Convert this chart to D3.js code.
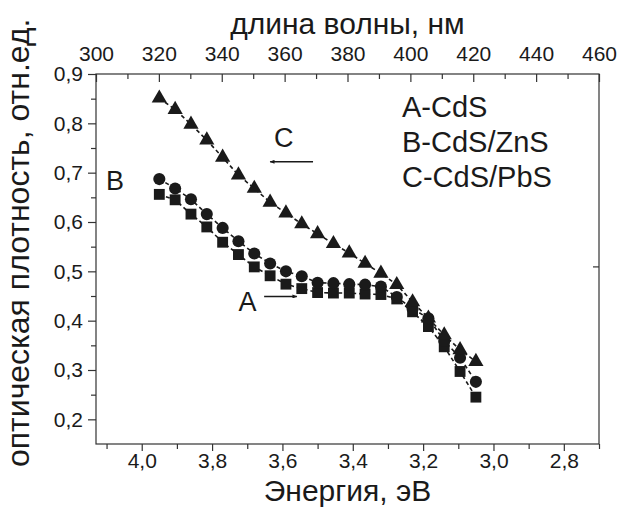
<!DOCTYPE html>
<html lang="ru">
<head>
<meta charset="UTF-8">
<title>Оптическая плотность CdS</title>
<script src="https://d3js.org/d3.v7.min.js"></script>
<style>
    body { margin: 0; background: #fff; overflow: hidden; }
    svg { display: block; }
    text { font-family: "Liberation Sans", Arial, sans-serif; fill: #1a1a1a; }
    .frame { fill: none; stroke: #333; stroke-width: 1.2; }
    .axis path { display: none; }
    .axis line { stroke: #333; stroke-width: 1.2; }
    .axis text { font-size: 21px; }
    .series { fill: none; stroke: #1a1a1a; stroke-width: 1.6; stroke-dasharray: 4,3; }
</style>
</head>
<body>
<svg width="618" height="509"></svg>
<script>
    // энергия фотона, эВ (общая для всех кривых)
    const energy = [3.95, 3.905, 3.86, 3.815, 3.77, 3.725, 3.68, 3.635, 3.59, 3.545, 3.50,
                    3.455, 3.41, 3.365, 3.32, 3.275, 3.23, 3.185, 3.14, 3.095, 3.05];

    // A-CdS (квадраты)
    const seriesA = [0.656, 0.645, 0.616, 0.590, 0.559, 0.534, 0.509, 0.491, 0.474, 0.465, 0.457,
                     0.456, 0.456, 0.454, 0.453, 0.444, 0.418, 0.388, 0.347, 0.297, 0.245];
    // B-CdS/ZnS (круги)
    const seriesB = [0.687, 0.668, 0.646, 0.616, 0.588, 0.561, 0.536, 0.516, 0.500, 0.490, 0.477,
                     0.476, 0.474, 0.473, 0.469, 0.448, 0.424, 0.405, 0.359, 0.325, 0.276];
    // C-CdS/PbS (треугольники)
    const seriesC = [0.851, 0.828, 0.798, 0.766, 0.731, 0.695, 0.668, 0.640, 0.618, 0.596, 0.576,
                     0.556, 0.537, 0.516, 0.496, 0.473, 0.438, 0.405, 0.371, 0.341, 0.317];

    const energyTicks = [4.0, 3.8, 3.6, 3.4, 3.2, 3.0, 2.8];
    const energyMinor = [4.1, 3.9, 3.7, 3.5, 3.3, 3.1, 2.9, 2.7];
    const waveTicks = [300, 320, 340, 360, 380, 400, 420, 440, 460];
    const waveMinor = [310, 330, 350, 370, 390, 410, 430, 450];
    const yTicks = [0.2, 0.3, 0.4, 0.5, 0.6, 0.7, 0.8, 0.9];
    const yMinor = [0.25, 0.35, 0.45, 0.55, 0.65, 0.75, 0.85];
    const rightTicks = [0.51];

    const legendLines = ["A-CdS", "B-CdS/ZnS", "C-CdS/PbS"];

    const svg = d3.select("svg");
    const m = { left: 96, right: 599, top: 74, bottom: 444 };

    const x = d3.scaleLinear().domain([4.13, 2.70]).range([m.left, m.right]);
    const xTop = d3.scaleLinear().domain([300, 460]).range([m.left, m.right]);
    const y = d3.scaleLinear().domain([0.15, 0.9]).range([m.bottom, m.top]);

    const fmt = d => d3.format(".1f")(d).replace(".", ",");

    // нижняя ось — энергия
    svg.append("g").attr("class", "axis")
        .attr("transform", `translate(0,${m.bottom})`)
        .call(d3.axisBottom(x).tickValues(energyTicks).tickFormat(fmt).tickSize(7).tickPadding(2));
    svg.append("g").attr("class", "axis")
        .attr("transform", `translate(0,${m.bottom})`)
        .call(d3.axisBottom(x).tickValues(energyMinor).tickFormat("").tickSize(5));

    // верхняя ось — длина волны, засечки внутрь
    svg.append("g").attr("class", "axis")
        .attr("transform", `translate(0,${m.top})`)
        .call(d3.axisTop(xTop).tickValues(waveTicks).tickSize(-8).tickPadding(13));
    svg.append("g").attr("class", "axis")
        .attr("transform", `translate(0,${m.top})`)
        .call(d3.axisTop(xTop).tickValues(waveMinor).tickFormat("").tickSize(-5));

    // левая ось
    svg.append("g").attr("class", "axis")
        .attr("transform", `translate(${m.left},0)`)
        .call(d3.axisLeft(y).tickValues(yTicks).tickFormat(fmt).tickSize(8).tickPadding(5));
    svg.append("g").attr("class", "axis")
        .attr("transform", `translate(${m.left},0)`)
        .call(d3.axisLeft(y).tickValues(yMinor).tickFormat("").tickSize(5));

    // правая ось — одна засечка внутрь
    svg.append("g").attr("class", "axis")
        .attr("transform", `translate(${m.right},0)`)
        .call(d3.axisRight(y).tickValues(rightTicks).tickFormat("").tickSize(-6));

    svg.append("rect").attr("class", "frame")
        .attr("x", m.left).attr("y", m.top)
        .attr("width", m.right - m.left).attr("height", m.bottom - m.top);

    // подписи осей
    svg.append("text")
        .attr("x", (m.left + m.right) / 2).attr("y", 34)
        .attr("text-anchor", "middle").attr("font-size", 30)
        .text("длина волны, нм");
    svg.append("text")
        .attr("x", (m.left + m.right) / 2).attr("y", 501)
        .attr("text-anchor", "middle").attr("font-size", 30)
        .text("Энергия, эВ");
    svg.append("text")
        .attr("transform", "translate(29,467) rotate(-90)")
        .attr("text-anchor", "start").attr("font-size", 32)
        .text("оптическая плотность, отн.ед.");

    // кривые
    const series = [
        { values: seriesA, symbol: d3.symbolSquare, size: 118 },
        { values: seriesB, symbol: d3.symbolCircle, size: 115 },
        { values: seriesC, symbol: d3.symbolTriangle, size: 100 }
    ];

    const line = d3.line().x(d => x(d[0])).y(d => y(d[1]));

    series.forEach(s => {
        const pts = energy.map((e, i) => [e, s.values[i]]);
        svg.append("path").attr("class", "series").attr("d", line(pts));
        svg.append("g").selectAll("path")
            .data(pts)
            .join("path")
            .attr("transform", d => `translate(${x(d[0])},${y(d[1])})`)
            .attr("d", d3.symbol().type(s.symbol).size(s.size))
            .attr("fill", "#1a1a1a");
    });

    // стрелки
    svg.append("defs").append("marker")
        .attr("id", "head")
        .attr("viewBox", "0 -5 12 10")
        .attr("refX", 11).attr("refY", 0)
        .attr("markerWidth", 10).attr("markerHeight", 4)
        .attr("markerUnits", "userSpaceOnUse")
        .attr("orient", "auto")
        .append("path")
        .attr("d", "M0,-5L12,0L0,5Z")
        .attr("fill", "#1a1a1a");

    const arrows = [
        { from: [3.513, 0.722], to: [3.635, 0.722] },
        { from: [3.652, 0.449], to: [3.559, 0.449] }
    ];
    svg.append("g").selectAll("line")
        .data(arrows)
        .join("line")
        .attr("x1", d => x(d.from[0])).attr("y1", d => y(d.from[1]))
        .attr("x2", d => x(d.to[0])).attr("y2", d => y(d.to[1]))
        .attr("stroke", "#1a1a1a").attr("stroke-width", 1.6)
        .attr("marker-end", "url(#head)");

    const letters = [
        { t: "C", e: 3.596, v: 0.752 },
        { t: "A", e: 3.699, v: 0.420 },
        { t: "B", e: 4.076, v: 0.665 }
    ];
    svg.append("g").selectAll("text")
        .data(letters)
        .join("text")
        .attr("x", d => x(d.e)).attr("y", d => y(d.v))
        .attr("text-anchor", "middle").attr("font-size", 27)
        .text(d => d.t);

    // легенда
    svg.append("g").selectAll("text")
        .data(legendLines)
        .join("text")
        .attr("x", x(3.26))
        .attr("y", (d, i) => y(0.813) + i * 35)
        .attr("font-size", 29)
        .text(d => d);
</script>
</body>
</html>
